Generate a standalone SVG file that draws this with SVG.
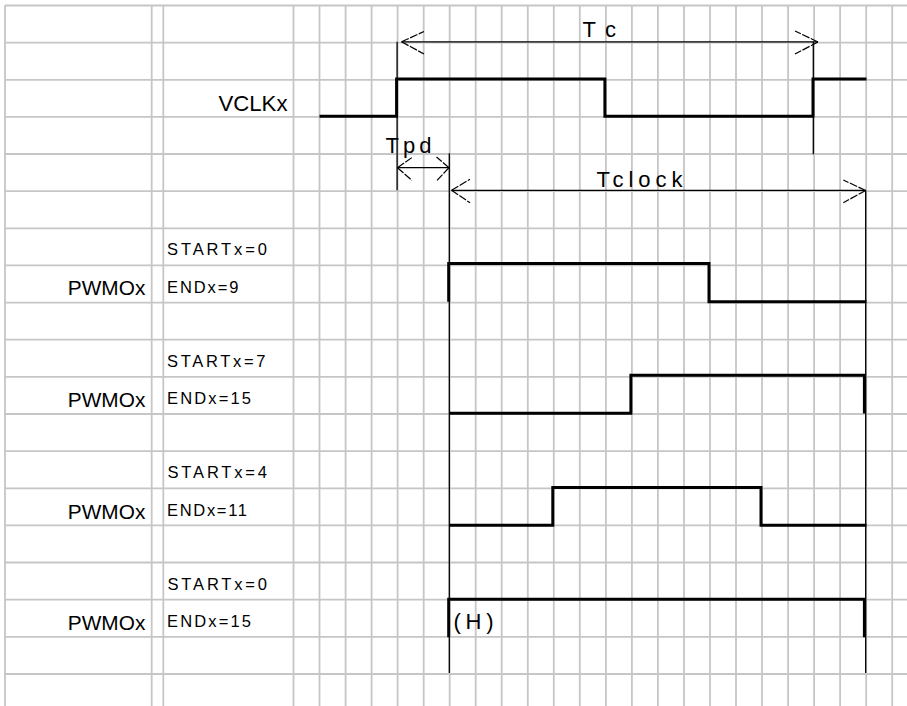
<svg xmlns="http://www.w3.org/2000/svg" width="907" height="706" viewBox="0 0 907 706">
<style>
.grid line{stroke:#c6c6c6;stroke-width:1.8}
.thin{stroke:#000;stroke-width:1.3;fill:none}
.arm{stroke:#000;stroke-width:1.2;fill:none;stroke-dasharray:8 1.5}
.wave{stroke:#000;stroke-width:3;fill:none;stroke-linejoin:miter;stroke-linecap:butt}
text{font-family:"Liberation Sans",Arial,sans-serif;fill:#000}
.big{font-size:22px}
.sig{font-size:21px}
.sm{font-size:16.5px}
</style>
<rect width="907" height="706" fill="#fff"/>
<g class="grid" id="grid">
<line x1="5" y1="5.5" x2="5" y2="706"/>
<line x1="151.7" y1="5.5" x2="151.7" y2="706"/>
<line x1="163.3" y1="5.5" x2="163.3" y2="706"/>
<line x1="293.5" y1="5.5" x2="293.5" y2="706"/>
<line x1="319.5" y1="5.5" x2="319.5" y2="706"/>
<line x1="345.6" y1="5.5" x2="345.6" y2="706"/>
<line x1="371.6" y1="5.5" x2="371.6" y2="706"/>
<line x1="397.6" y1="5.5" x2="397.6" y2="706"/>
<line x1="423.7" y1="5.5" x2="423.7" y2="706"/>
<line x1="449.7" y1="5.5" x2="449.7" y2="706"/>
<line x1="475.7" y1="5.5" x2="475.7" y2="706"/>
<line x1="501.7" y1="5.5" x2="501.7" y2="706"/>
<line x1="527.8" y1="5.5" x2="527.8" y2="706"/>
<line x1="553.8" y1="5.5" x2="553.8" y2="706"/>
<line x1="579.8" y1="5.5" x2="579.8" y2="706"/>
<line x1="605.9" y1="5.5" x2="605.9" y2="706"/>
<line x1="631.9" y1="5.5" x2="631.9" y2="706"/>
<line x1="657.9" y1="5.5" x2="657.9" y2="706"/>
<line x1="684" y1="5.5" x2="684" y2="706"/>
<line x1="710" y1="5.5" x2="710" y2="706"/>
<line x1="736" y1="5.5" x2="736" y2="706"/>
<line x1="762" y1="5.5" x2="762" y2="706"/>
<line x1="788.1" y1="5.5" x2="788.1" y2="706"/>
<line x1="814.1" y1="5.5" x2="814.1" y2="706"/>
<line x1="840.1" y1="5.5" x2="840.1" y2="706"/>
<line x1="866.2" y1="5.5" x2="866.2" y2="706"/>
<line x1="892.2" y1="5.5" x2="892.2" y2="706"/>
<line x1="5" y1="5.5" x2="907" y2="5.5"/>
<line x1="5" y1="42.6" x2="907" y2="42.6"/>
<line x1="5" y1="79.8" x2="907" y2="79.8"/>
<line x1="5" y1="116.9" x2="907" y2="116.9"/>
<line x1="5" y1="154" x2="907" y2="154"/>
<line x1="5" y1="191.2" x2="907" y2="191.2"/>
<line x1="5" y1="228.3" x2="907" y2="228.3"/>
<line x1="5" y1="265.4" x2="907" y2="265.4"/>
<line x1="5" y1="302.6" x2="907" y2="302.6"/>
<line x1="5" y1="339.7" x2="907" y2="339.7"/>
<line x1="5" y1="376.9" x2="907" y2="376.9"/>
<line x1="5" y1="414" x2="907" y2="414"/>
<line x1="5" y1="451.1" x2="907" y2="451.1"/>
<line x1="5" y1="488.3" x2="907" y2="488.3"/>
<line x1="5" y1="525.4" x2="907" y2="525.4"/>
<line x1="5" y1="562.5" x2="907" y2="562.5"/>
<line x1="5" y1="599.7" x2="907" y2="599.7"/>
<line x1="5" y1="636.8" x2="907" y2="636.8"/>
<line x1="5" y1="674" x2="907" y2="674"/>
</g>
<g id="connectors">
<line class="thin" x1="397.1" y1="41.7" x2="397.1" y2="190.3"/>
<line class="thin" x1="813.3" y1="41.7" x2="813.3" y2="154.3"/>
<line class="thin" x1="449.3" y1="153.3" x2="449.3" y2="673"/>
<line class="thin" x1="865.7" y1="190.3" x2="865.7" y2="673"/>
<g id="tc">
<line class="thin" x1="401.5" y1="41.8" x2="818" y2="41.8"/>
<path class="arm" d="M401.5,41.8 L424,31.5 M401.5,41.8 L424,54"/>
<path class="arm" d="M818,42 L795,31 M818,42 L795,54"/>
<text class="big" x="582.5" y="36.7" font-size="25" textLength="33.5" lengthAdjust="spacing">Tc</text>
</g>
<g id="tpd">
<line class="thin" x1="397.1" y1="167.7" x2="449.3" y2="167.7"/>
<path class="arm" d="M397.5,167.7 L412,157.5 M397.5,167.7 L412,180.5"/>
<path class="arm" d="M449,167.7 L436.5,157 M449,167.7 L436.5,181"/>
<text class="big" x="385.5" y="153.3" font-size="26" textLength="46" lengthAdjust="spacing">Tpd</text>
</g>
<g id="tclock">
<line class="thin" x1="451.5" y1="190.3" x2="865.7" y2="190.3"/>
<path class="arm" d="M451.5,190.3 L470,179.3 M451.5,190.3 L470,202.7"/>
<path class="arm" d="M865.7,190.5 L843.3,180 M865.7,190.5 L843.3,202.7"/>
<text class="big" x="596.5" y="187" font-size="23.5" textLength="86" lengthAdjust="spacing">Tclock</text>
</g>
</g>
<g id="vclk">
<text class="big" x="218.5" y="110.7" textLength="69" lengthAdjust="spacingAndGlyphs">VCLKx</text>
<path class="wave" d="M319.5,116.3 H396.6 V79 H604.9 V116.3 H813 V79 H866.5"/>
</g>
<g id="pwm1">
<text class="sm" x="167" y="255.2" textLength="100" lengthAdjust="spacing">STARTx=0</text>
<text class="sig" x="67.8" y="295.4" textLength="77.5" lengthAdjust="spacingAndGlyphs">PWMOx</text>
<text class="sm" x="167" y="293.3" textLength="71.5" lengthAdjust="spacing">ENDx=9</text>
<path class="wave" d="M448.7,301.7 V263.6 H709 V301.7 H866.5"/>
</g>
<g id="pwm2">
<text class="sm" x="167" y="366.7" textLength="98.5" lengthAdjust="spacing">STARTx=7</text>
<text class="sig" x="67.8" y="407.3" textLength="77.5" lengthAdjust="spacingAndGlyphs">PWMOx</text>
<text class="sm" x="167" y="404" textLength="84" lengthAdjust="spacing">ENDx=15</text>
<path class="wave" d="M449.3,413.2 H630.9 V375.3 H864.4 V413.5"/>
</g>
<g id="pwm3">
<text class="sm" x="167.5" y="478.3" textLength="99.5" lengthAdjust="spacing">STARTx=4</text>
<text class="sig" x="67.8" y="518.7" textLength="77.5" lengthAdjust="spacingAndGlyphs">PWMOx</text>
<text class="sm" x="167" y="515.5" textLength="80" lengthAdjust="spacing">ENDx=11</text>
<path class="wave" d="M449.3,525.3 H552.8 V487.6 H761 V525.3 H866.5"/>
</g>
<g id="pwm4">
<text class="sm" x="167.5" y="589.7" textLength="99.5" lengthAdjust="spacing">STARTx=0</text>
<text class="sig" x="67.8" y="630" textLength="77.5" lengthAdjust="spacingAndGlyphs">PWMOx</text>
<text class="sm" x="167" y="627" textLength="84" lengthAdjust="spacing">ENDx=15</text>
<path class="wave" d="M448.7,637.3 V599.2 H864.4 V637.3"/>
<text class="big" x="453.5" y="628.5" font-size="25" textLength="40" lengthAdjust="spacing">(H)</text>
</g>
</svg>
